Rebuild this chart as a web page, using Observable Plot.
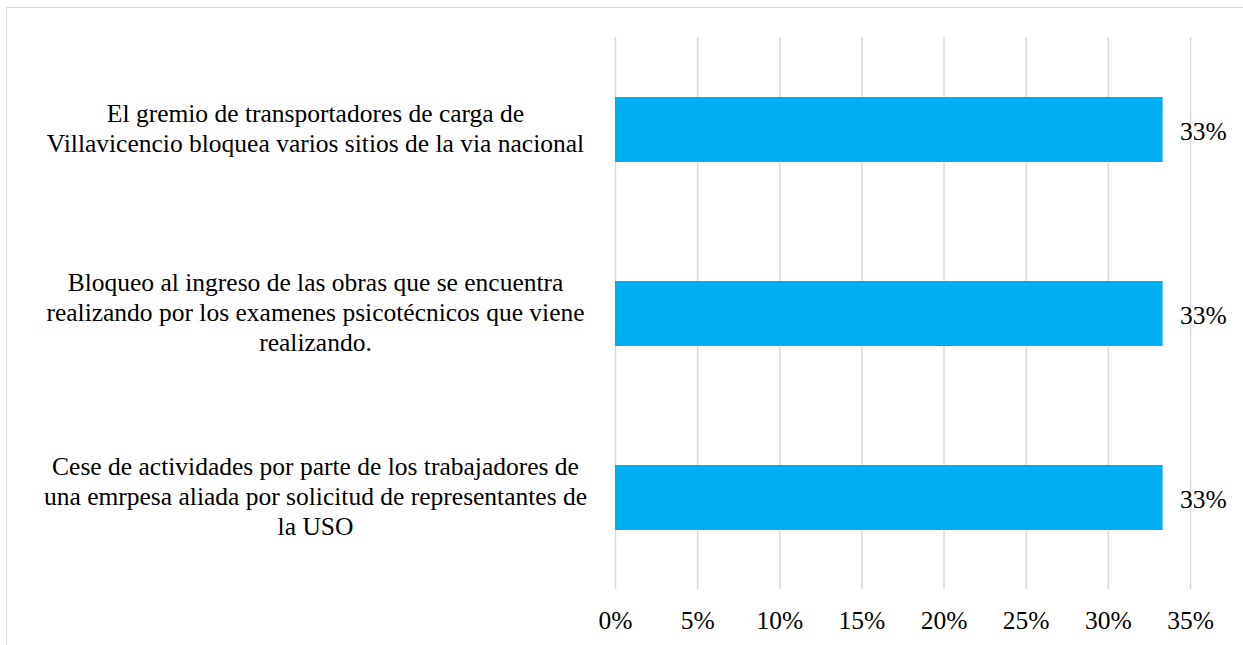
<!DOCTYPE html>
<html>
<head>
<meta charset="utf-8">
<script src="https://cdn.jsdelivr.net/npm/d3@7"></script>
<script src="https://cdn.jsdelivr.net/npm/@observablehq/plot@0.6"></script>
<style>
  html, body { margin: 0; padding: 0; background: #fff; overflow: hidden; }
  #wrap { position: relative; width: 1243px; height: 645px; }
  #frame { position: absolute; left: 6px; top: 7px; width: 1300px; height: 700px; border: 1.5px solid #d9d9d9; box-sizing: border-box; }
  #chart { position: absolute; left: 0; top: 0; }
  #chart svg, #chart svg text { font-family: "Liberation Serif", "Times New Roman", serif !important; }
</style>
</head>
<body>
<div id="wrap"><div id="frame"></div><div id="chart"></div></div>
<script>
const categories = [
  "El gremio de transportadores de carga de\nVillavicencio bloquea varios sitios de la via nacional",
  "Bloqueo al ingreso de las obras que se encuentra\nrealizando por los examenes psicotécnicos que viene\nrealizando.",
  "Cese de actividades por parte de los trabajadores de\nuna emrpesa aliada por solicitud de representantes de\nla USO"
];
const values = [0.3333, 0.3333, 0.3333];
const valueLabels = ["33%", "33%", "33%"];
const xTicks = [0, 0.05, 0.10, 0.15, 0.20, 0.25, 0.30, 0.35];

const data = categories.map((c, i) => ({category: c, value: values[i], label: valueLabels[i]}));
const font = "Liberation Serif, Times New Roman, serif";
const fs = 25.5;

const chart = Plot.plot({
  width: 1243,
  height: 645,
  marginLeft: 615,
  marginRight: 53,
  marginTop: 37,
  marginBottom: 56,
  style: {background: "transparent"},
  x: {domain: [0, 0.35], ticks: xTicks, tickFormat: d3.format(".0%"), label: null},
  y: {domain: categories, paddingInner: 0.647, paddingOuter: 0.3235, axis: null},
  marks: [
    Plot.gridX(xTicks, {stroke: "#d9d9d9", strokeOpacity: 1, strokeWidth: 1.5}),
    Plot.barX(data, {x: "value", y: "category", fill: "#00b0f0"}),
    Plot.text(data, {x: "value", y: "category", text: "label", textAnchor: "start", dx: 17, dy: 2, fill: "#000", fontSize: fs, fontFamily: font}),
    Plot.text(data, {y: "category", text: "category", frameAnchor: "left", dx: -300, dy: -3, textAnchor: "middle", lineHeight: 30 / fs, fill: "#000", fontSize: fs, fontFamily: font}),
    Plot.axisX(xTicks, {tickSize: 0, tickPadding: 21, tickFormat: d3.format(".0%"), fontSize: fs, fontFamily: font, fill: "#000", label: null})
  ]
});
document.getElementById("chart").appendChild(chart);
</script>
</body>
</html>
